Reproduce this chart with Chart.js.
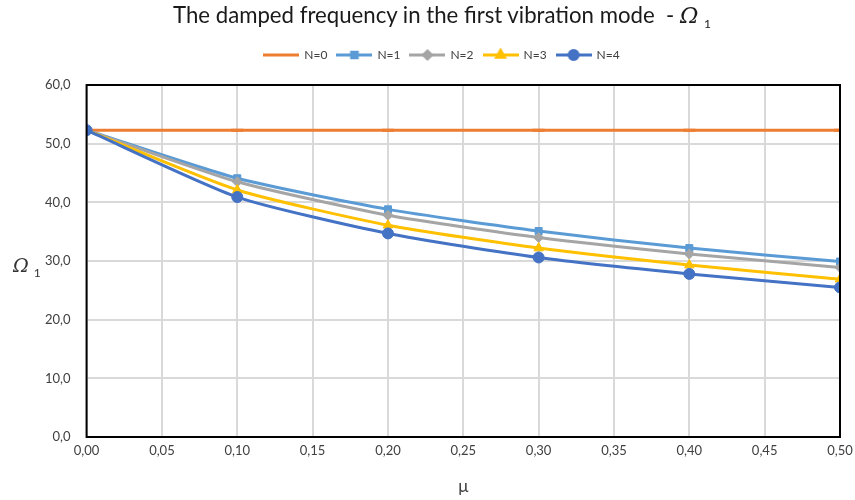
<!DOCTYPE html>
<html>
<head>
<meta charset="utf-8">
<script src="https://cdn.jsdelivr.net/npm/chart.js@4.4.0/dist/chart.umd.min.js"></script>
<style>
  body { margin:0; background:#fff; }
  #wrap { position:relative; width:855px; height:500px; }
  #ttl { position:absolute; top:1px; left:0; width:884px; text-align:center; font-family:Lato, sans-serif; font-size:22.2px; color:#1a1a1a; }
  #ttl i, #ylab i { font-family:"DejaVu Serif", serif; font-style:italic; }
  #ttl sub, #ylab sub { font-size:12px; font-family:Lato, sans-serif; }
  #ylab { position:absolute; left:13px; top:253px; font-size:19px; color:#333; font-family:Lato, sans-serif; }
</style>
</head>
<body>
<div id="wrap">
  <canvas id="c" width="855" height="500"></canvas>
  <div id="ttl">The damped frequency in the first vibration mode &nbsp;- <i>Ω</i> <sub>1</sub></div>
  <div id="ylab"><i>Ω</i> <sub>1</sub></div>
</div>
<script>
const mu = [0, 0.1, 0.2, 0.3, 0.4, 0.5];
const seriesNames = ['N=0', 'N=1', 'N=2', 'N=3', 'N=4'];
const n0 = [52.3, 52.3, 52.3, 52.3, 52.3, 52.3];
const n1 = [52.3, 44.1, 38.8, 35.1, 32.2, 29.9];
const n2 = [52.3, 43.5, 37.8, 34.0, 31.2, 28.9];
const n3 = [52.3, 42.1, 36.1, 32.2, 29.3, 26.9];
const n4 = [52.3, 40.9, 34.7, 30.6, 27.8, 25.5];
const colors = ['#ED7D31', '#5B9BD5', '#A5A5A5', '#FFC000', '#4472C4'];
const markers = ['line', 'rect', 'rectRot', 'triangle', 'circle'];
const radii = [6, 5, 5, 5.5, 5.5];

const allSeries = [n0, n1, n2, n3, n4];

function legendIcon(i) {
  const cv = document.createElement('canvas');
  cv.width = 36; cv.height = 14;
  const g = cv.getContext('2d');
  g.strokeStyle = colors[i]; g.lineWidth = 3;
  g.beginPath(); g.moveTo(0, 7); g.lineTo(36, 7); g.stroke();
  g.fillStyle = colors[i];
  if (i > 0) {
    Chart.helpers.drawPoint(g, { pointStyle: markers[i], radius: radii[i] - 1, borderWidth: 1 }, 18, 7);
    g.fill();
  }
  return cv;
}

const frame = {
  id: 'frame',
  afterDraw(chart) {
    const a = chart.chartArea, g = chart.ctx;
    g.save(); g.strokeStyle = '#000'; g.lineWidth = 2;
    g.strokeRect(a.left, a.top, a.right - a.left, a.bottom - a.top);
    g.restore();
  }
};

// extra room under the legend
const legendGap = {
  id: 'legendGap',
  beforeInit(chart) {
    const fit = chart.legend.fit;
    chart.legend.fit = function () { fit.call(this); this.height += 14; };
  }
};

const datasets = allSeries.map((s, i) => ({
  label: seriesNames[i],
  data: mu.map((x, k) => ({ x, y: s[k] })),
  borderColor: colors[i],
  backgroundColor: colors[i],
  borderWidth: 3,
  pointStyle: markers[i],
  pointRadius: radii[i],
  pointBorderWidth: i === 0 ? 3 : 1,
  tension: 0.2,
  order: 4 - i
}));

new Chart(document.getElementById('c'), {
  type: 'line',
  data: { datasets },
  plugins: [frame, legendGap],
  options: {
    responsive: false,
    animation: false,
    layout: { padding: { top: 39, left: 29, right: 0, bottom: 3 } },
    plugins: {
      tooltip: { enabled: false },
      legend: {
        position: 'top',
        labels: {
          usePointStyle: true,
          pointStyleWidth: 34,
          boxHeight: 12,
          padding: 10,
          color: '#404040',
          font: { family: 'Lato', size: 12 },
          sort: (a, b) => a.datasetIndex - b.datasetIndex,
          generateLabels: chart => seriesNames.map((n, i) => ({
            text: n, datasetIndex: i, pointStyle: legendIcon(i),
            fillStyle: colors[i], strokeStyle: colors[i], lineWidth: 0, fontColor: '#404040'
          }))
        }
      }
    },
    scales: {
      x: {
        type: 'linear', min: 0, max: 0.5,
        afterFit: s => { s.paddingRight = 15; },
        ticks: { stepSize: 0.05, color: '#404040', font: { family: 'Lato', size: 13 }, padding: 6,
          callback: v => v.toFixed(2).replace('.', ',') },
        grid: { color: '#d9d9d9', lineWidth: 2, drawTicks: false },
        border: { display: false },
        title: { display: true, text: 'μ', color: '#404040', font: { family: 'Lato', size: 17 }, padding: { top: 12, bottom: 0 } }
      },
      y: {
        min: 0, max: 60,
        ticks: { stepSize: 10, color: '#404040', font: { family: 'Lato', size: 13 }, padding: 16,
          callback: v => v.toFixed(1).replace('.', ',') },
        grid: { color: '#d9d9d9', lineWidth: 2, drawTicks: false },
        border: { display: false }
      }
    }
  }
});
</script>
</body>
</html>
